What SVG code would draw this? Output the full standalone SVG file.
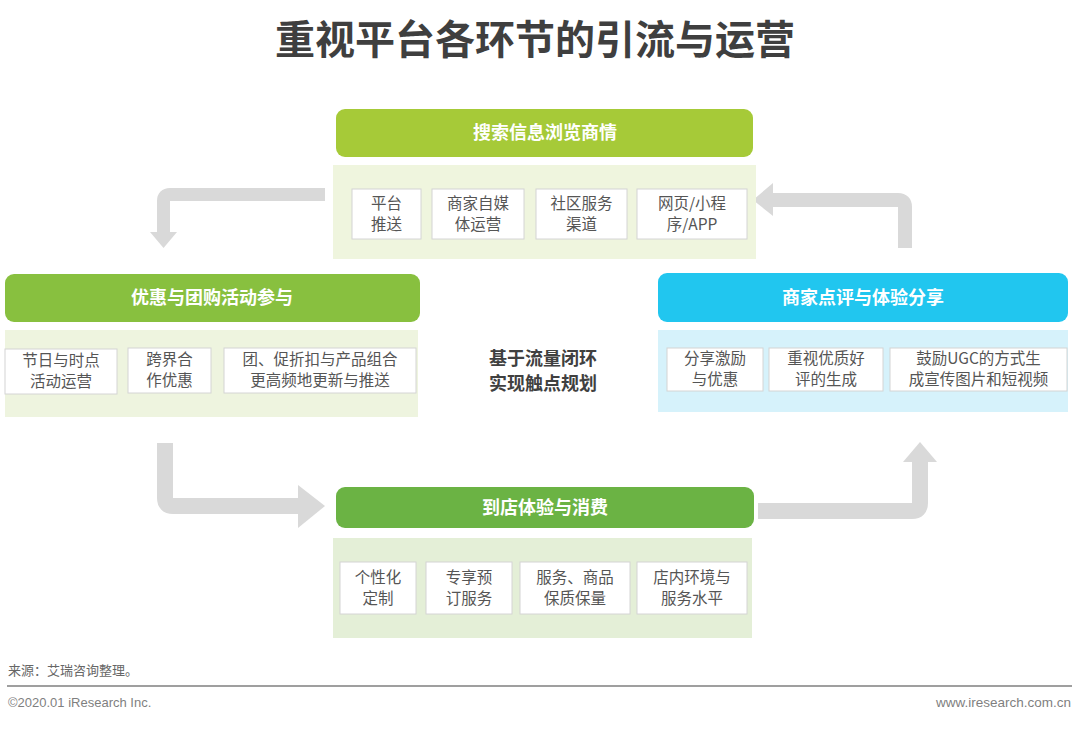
<svg xmlns="http://www.w3.org/2000/svg" width="1080" height="731" viewBox="0 0 1080 731">
<style>
.title{font-family:"Noto Sans CJK SC","Noto Sans",sans-serif;font-weight:700;font-size:40px;fill:#3f3f3f}
.hd{font-family:"Noto Sans CJK SC",sans-serif;font-weight:700;font-size:18px;fill:#ffffff}
.bx{fill:#ffffff;stroke:#d4d4d4;stroke-width:1}
.bt{font-family:"Noto Sans CJK SC",sans-serif;font-size:15.5px;fill:#555555}
.bs{font-family:"Noto Sans CJK SC",sans-serif;font-size:15.5px;fill:#555555}
.ct{font-family:"Noto Sans CJK SC",sans-serif;font-weight:700;font-size:18px;fill:#404040}
.ft{font-family:"Liberation Sans","Noto Sans CJK SC",sans-serif;font-size:13px;fill:#7f7f7f}
.arr{fill:none;stroke:#d9d9d9;stroke-linejoin:round}
.ah{fill:#d9d9d9}
</style>
<rect width="1080" height="731" fill="#ffffff"/>
<text class="title" x="535" y="54" text-anchor="middle">重视平台各环节的引流与运营</text>

<g id="connectors">
  <path class="arr" d="M325,194.5 H170 Q163.5,194.5 163.5,201 V233" stroke-width="13"/>
  <polygon class="ah" points="150,232 177,232 163.5,248"/>
  <path class="arr" d="M772,200 H898 Q905,200 905,207 V248" stroke-width="14"/>
  <polygon class="ah" points="773,183 773,216 753,200"/>
  <path class="arr" d="M165,443 V498 Q165,506 173,506 H299" stroke-width="16"/>
  <polygon class="ah" points="298,485 298,528 325,506"/>
  <path class="arr" d="M758,511 H912 Q920,511 920,503 V461" stroke-width="16"/>
  <polygon class="ah" points="903,462 937,462 920,442"/>
</g>

<g id="node-top">
  <rect x="333" y="165" width="423" height="94" fill="#eff5de"/>
  <rect x="336" y="109" width="417" height="48" rx="9" fill="#a6ca38"/>
  <text class="hd" x="545" y="139" text-anchor="middle">搜索信息浏览商情</text>
  <rect class="bx" x="352" y="189" width="69" height="50"/>
  <text class="bt" x="386.5" y="209" text-anchor="middle">平台</text>
  <text class="bt" x="386.5" y="230" text-anchor="middle">推送</text>
  <rect class="bx" x="432" y="189" width="92" height="50"/>
  <text class="bt" x="478" y="209" text-anchor="middle">商家自媒</text>
  <text class="bt" x="478" y="230" text-anchor="middle">体运营</text>
  <rect class="bx" x="536" y="189" width="91" height="50"/>
  <text class="bt" x="581.5" y="209" text-anchor="middle">社区服务</text>
  <text class="bt" x="581.5" y="230" text-anchor="middle">渠道</text>
  <rect class="bx" x="637" y="189" width="110" height="50"/>
  <text class="bt" x="692" y="209" text-anchor="middle">网页/小程</text>
  <text class="bt" x="692" y="230" text-anchor="middle">序/APP</text>
</g>

<g id="node-left">
  <rect x="5" y="330" width="413" height="87" fill="#eef4df"/>
  <rect x="5" y="274" width="415" height="48" rx="9" fill="#88c03f"/>
  <text class="hd" x="212" y="304" text-anchor="middle">优惠与团购活动参与</text>
  <rect class="bx" x="5" y="349" width="112" height="45"/>
  <text class="bs" x="61" y="366" text-anchor="middle">节日与时点</text>
  <text class="bs" x="61" y="387" text-anchor="middle">活动运营</text>
  <rect class="bx" x="128" y="348" width="83" height="45"/>
  <text class="bs" x="169.5" y="365" text-anchor="middle">跨界合</text>
  <text class="bs" x="169.5" y="386" text-anchor="middle">作优惠</text>
  <rect class="bx" x="224" y="348" width="192" height="45"/>
  <text class="bs" x="320" y="365" text-anchor="middle">团、促折扣与产品组合</text>
  <text class="bs" x="320" y="386" text-anchor="middle">更高频地更新与推送</text>
</g>

<g id="node-right">
  <rect x="658" y="330" width="410" height="82" fill="#d6f2fb"/>
  <rect x="658" y="273" width="410" height="49" rx="9" fill="#21c6ef"/>
  <text class="hd" x="863" y="304" text-anchor="middle">商家点评与体验分享</text>
  <rect class="bx" x="667" y="348" width="96" height="43"/>
  <text class="bs" x="715" y="364" text-anchor="middle">分享激励</text>
  <text class="bs" x="715" y="385" text-anchor="middle">与优惠</text>
  <rect class="bx" x="769" y="348" width="114" height="43"/>
  <text class="bs" x="826" y="364" text-anchor="middle">重视优质好</text>
  <text class="bs" x="826" y="385" text-anchor="middle">评的生成</text>
  <rect class="bx" x="890" y="348" width="177" height="43"/>
  <text class="bs" x="978.5" y="364" text-anchor="middle">鼓励UGC的方式生</text>
  <text class="bs" x="978.5" y="385" text-anchor="middle">成宣传图片和短视频</text>
</g>

<g id="node-bottom">
  <rect x="333" y="538" width="419" height="100" fill="#e4efd7"/>
  <rect x="336" y="487" width="418" height="41" rx="9" fill="#6bb344"/>
  <text class="hd" x="545" y="514" text-anchor="middle">到店体验与消费</text>
  <rect class="bx" x="340" y="562" width="76" height="52"/>
  <text class="bt" x="378" y="583" text-anchor="middle">个性化</text>
  <text class="bt" x="378" y="604" text-anchor="middle">定制</text>
  <rect class="bx" x="426" y="562" width="86" height="52"/>
  <text class="bt" x="469" y="583" text-anchor="middle">专享预</text>
  <text class="bt" x="469" y="604" text-anchor="middle">订服务</text>
  <rect class="bx" x="520" y="562" width="110" height="52"/>
  <text class="bt" x="575" y="583" text-anchor="middle">服务、商品</text>
  <text class="bt" x="575" y="604" text-anchor="middle">保质保量</text>
  <rect class="bx" x="637" y="562" width="110" height="52"/>
  <text class="bt" x="692" y="583" text-anchor="middle">店内环境与</text>
  <text class="bt" x="692" y="604" text-anchor="middle">服务水平</text>
</g>

<g id="center">
  <text class="ct" x="543" y="365" text-anchor="middle">基于流量闭环</text>
  <text class="ct" x="543" y="389.5" text-anchor="middle">实现触点规划</text>
</g>

<g id="footer">
  <text class="ft" x="8" y="675" style="fill:#666">来源：艾瑞咨询整理。</text>
  <line x1="7" y1="686" x2="1072" y2="686" stroke="#7f7f7f" stroke-width="1.5"/>
  <text class="ft" x="8" y="707">©2020.01 iResearch Inc.</text>
  <text class="ft" x="1071" y="707" text-anchor="end" style="font-size:13.5px">www.iresearch.com.cn</text>
</g>
</svg>
